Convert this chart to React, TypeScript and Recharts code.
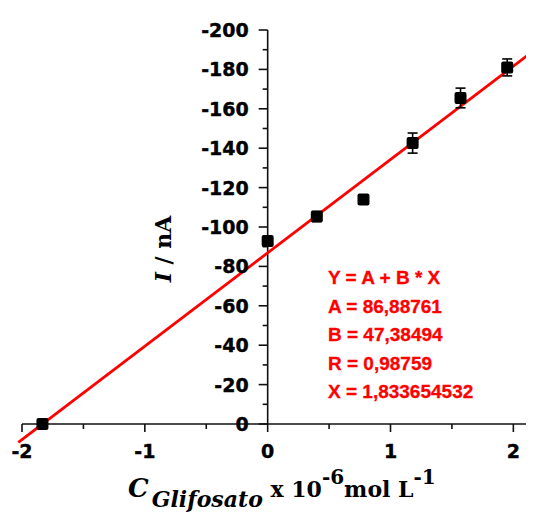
import React from "react";
import {
  ComposedChart,
  Scatter,
  ErrorBar,
  XAxis,
  YAxis,
  ReferenceLine,
  ReferenceDot,
} from "recharts";

// calibration points: concentration (x10^-6 mol/L) vs peak current (nA)
const concentration = [0, 0.4, 0.78, 1.18, 1.57, 1.95];
const current = [-92.9, -105.3, -114.0, -142.6, -165.5, -181.0];
const currentError = [1.5, 2.5, 0.5, 5.1, 5, 4.3];

// linear fit results
const fitA = 86.88761;
const fitB = 47.38494;
const fitText = [
  "Y = A + B * X",
  "A = 86,88761",
  "B = 47,38494",
  "R = 0,98759",
  "X = 1,833654532",
];

const xTicks = [-2, -1.5, -1, -0.5, 0, 0.5, 1, 1.5, 2];
const yTicks = [
  0, -10, -20, -30, -40, -50, -60, -70, -80, -90, -100, -110, -120, -130, -140,
  -150, -160, -170, -180, -190, -200,
];
const xDomain = [-2, 2.16];
const yDomain = [-200, 0];

const points = concentration.map((x, i) => ({
  x,
  y: current[i],
  err: currentError[i],
}));
// x-intercept of the fit (detection by extrapolation)
const intercept = [{ x: -fitA / fitB, y: 0 }];
const fitStart = -2.03;
const fitEnd = xDomain[1];
const fitSegment = [
  { x: fitStart, y: -(fitA + fitB * fitStart) },
  { x: fitEnd, y: -(fitA + fitB * fitEnd) },
];

const W = 526;
const H = 510;
const tickFont = {
  fontFamily: "'DejaVu Sans', sans-serif",
  fontWeight: "bold" as const,
  fontSize: 19,
  fill: "#000",
  stroke: "#000",
  strokeWidth: 0.4,
};

const Square = (props: any) => {
  const { cx, cy } = props;
  if (cx == null || cy == null) return null;
  return <rect x={cx - 6} y={cy - 6} width={12} height={12} rx={2} fill="#000" />;
};

const XTick = (props: any) => {
  const { x, y, payload } = props;
  const major = Number.isInteger(payload.value);
  return (
    <g>
      <line x1={x} x2={x} y1={y} y2={y + (major ? 8 : 5)} stroke="#111" strokeWidth={1.6} />
      {major && (
        <text x={x} y={y + 34} textAnchor="middle" {...tickFont}>
          {payload.value}
        </text>
      )}
    </g>
  );
};

const yTickShape = (value: number) => (props: any) => {
  const { cx, cy } = props;
  const major = value % 20 === 0;
  return (
    <g>
      <line x1={cx - (major ? 9 : 5)} x2={cx} y1={cy} y2={cy} stroke="#111" strokeWidth={1.6} />
      {major && (
        <text x={cx - 19} y={cy + 7} textAnchor="end" {...tickFont}>
          {value}
        </text>
      )}
    </g>
  );
};

export default function App() {
  return (
    <div style={{ position: "relative", width: W, height: H }}>
      <ComposedChart
        width={W}
        height={H}
        margin={{ top: 22, right: 1, left: 14, bottom: 54 }}
      >
        <XAxis
          type="number"
          dataKey="x"
          domain={xDomain}
          ticks={xTicks}
          interval={0}
          tickSize={0}
          tickMargin={0}
          tickLine={false}
          tick={<XTick />}
          height={40}
          axisLine={{ stroke: "#111", strokeWidth: 1.6 }}
        />
        <YAxis type="number" dataKey="y" domain={yDomain} reversed hide />
        <ReferenceLine
          segment={[
            { x: 0, y: 0 },
            { x: 0, y: -200 },
          ]}
          stroke="#111"
          strokeWidth={1.6}
          ifOverflow="visible"
        />
        {yTicks.map((v) => (
          <ReferenceDot
            key={v}
            x={0}
            y={v}
            r={1}
            ifOverflow="visible"
            shape={yTickShape(v)}
          />
        ))}
        <ReferenceLine
          segment={fitSegment}
          stroke="#ff0000"
          strokeWidth={2.8}
          ifOverflow="visible"
        />
        <Scatter data={points} dataKey="y" shape={<Square />} isAnimationActive={false}>
          <ErrorBar dataKey="err" direction="y" width={5} stroke="#000" strokeWidth={1.6} />
        </Scatter>
        <Scatter data={intercept} dataKey="y" shape={<Square />} isAnimationActive={false} />
      </ComposedChart>

      <svg
        width={W}
        height={H}
        style={{ position: "absolute", left: 0, top: 0, pointerEvents: "none" }}
      >
        <g
          fontFamily="'Liberation Sans', Arial, sans-serif"
          fontWeight="bold"
          fontSize={19}
          fill="#ff0000"
          stroke="#ff0000"
          strokeWidth={0.3}
        >
          {fitText.map((t, i) => (
            <text key={t} x={320} y={276 + i * 28.6}>
              {t}
            </text>
          ))}
        </g>
        <text
          transform="translate(163,241) rotate(-90)"
          textAnchor="middle"
          fontFamily="'DejaVu Serif', serif"
          fontWeight="bold"
          fontSize={22}
          fill="#000"
        >
          <tspan fontStyle="italic">I</tspan> / nA
        </text>
        <text
          x={120}
          y={489}
          fontFamily="'DejaVu Serif', serif"
          fontWeight="bold"
          fontSize={22}
          fill="#000"
        >
          <tspan fontStyle="italic" fontSize={26}>C</tspan>
          <tspan fontStyle="italic" dx={3} dy={10}>Glifosato</tspan>
          <tspan dy={-10}> x 10</tspan>
          <tspan dy={-13} fontSize={20}>-6</tspan>
          <tspan dy={13}>mol L</tspan>
          <tspan dy={-13} fontSize={20}>-1</tspan>
        </text>
      </svg>
    </div>
  );
}
